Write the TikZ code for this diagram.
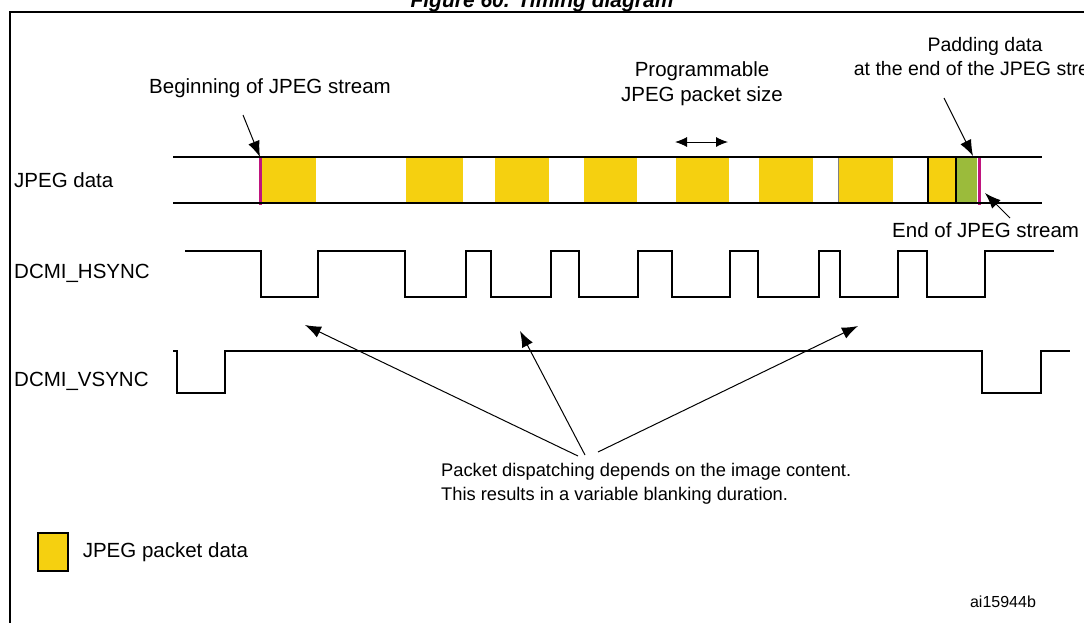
\documentclass[tikz,border=0pt]{standalone}
\usepackage{fontspec}
\setmainfont{Liberation Sans}
\usetikzlibrary{positioning,arrows.meta}
\definecolor{pktyellow}{HTML}{F5D010}
\definecolor{padgreen}{HTML}{9BBB3B}
\definecolor{streammag}{HTML}{C0147E}
\tikzset{
  lbl/.style={inner sep=0pt,font=\fontsize{20.5}{25}\selectfont},
  sig/.style={line width=1.8pt,line join=miter},
  pkt/.style={fill=pktyellow,draw=none},
  ptr/.style={-{Latex[length=16pt,width=12pt]},line width=1pt},
}
\begin{document}
\begin{tikzpicture}[x=1pt,y=-1pt,>=latex]
\useasboundingbox (0,0) rectangle (1084,622);
%% frame and title
\draw[line width=1.4pt] (10,624) -- (10,12) -- (1090,12);
\node[lbl,font=\fontsize{21}{25}\selectfont\bfseries\itshape,anchor=base] (title) at (542,7) {Figure 60. Timing diagram};
%% JPEG data band
\foreach \a/\b in {262/316,406/463,495/549,584/637,676/729,759/813,838/893,928/956}
  \fill[pkt] (\a,157) rectangle (\b,203);
\fill[padgreen] (956,157) rectangle (977,203);
\draw[line width=0.5pt,gray] (838,157) -- (838,203);
\draw[line width=1.2pt] (928,157) -- (928,203);
\draw[line width=1.2pt] (956,157) -- (956,203);
\draw[streammag,line width=3pt] (260,157) -- (260,205);
\draw[streammag,line width=3pt] (979.5,157) -- (979.5,205);
\draw[sig] (173,157) -- (1042,157);
\draw[sig] (173,203) -- (1042,203);
%% signals
\draw[sig] (185,251) -| (261,297) -| (318,251) -| (405,297) -| (466,251) -| (491,297)
  -| (551,251) -| (579,297) -| (638,251) -| (672,297) -| (730,251) -| (758,297)
  -| (819,251) -| (840,297) -| (898,251) -| (927,297) -| (985,251) -- (1054,251);
\draw[sig] (173,351) -| (177,393) -| (225,351) -| (982,393) -| (1041,351) -- (1070,351);
%% signal names
\node[lbl,anchor=west] (jpeg) at (14,180) {JPEG data};
\node[lbl,anchor=west] (hsync) at (14,273) {DCMI\_HSYNC};
\node[lbl,anchor=west] (vsync) at (14,381) {DCMI\_VSYNC};
%% annotations
\node[lbl] (begin) at (270,88) {Beginning of JPEG stream};
\coordinate (begintail) at (243,115);
\coordinate (begintip) at (260,157);
\draw[ptr] (begintail) -- (begintip);
\node[lbl,align=center] (progsize) at (702,84) {Programmable\\JPEG packet size};
\coordinate (sizel) at (675,142);
\coordinate (sizer) at (728,142);
\draw[{Latex[length=12pt,width=10pt]}-{Latex[length=12pt,width=10pt]},line width=1pt] (sizel) -- (sizer);
\node[lbl,font=\fontsize{19.5}{24}\selectfont,align=center] (padding) at (985,57) {Padding data\\at the end of the JPEG stream};
\coordinate (padtail) at (944,98);
\coordinate (padtip) at (973,156);
\draw[ptr] (padtail) -- (padtip);
\node[lbl,anchor=west] (endst) at (892,230) {End of JPEG stream};
\coordinate (endtail) at (1010,218);
\coordinate (endtip) at (985,193);
\draw[ptr] (endtail) -- (endtip);
\node[lbl,font=\fontsize{18.3}{24}\selectfont,align=left,anchor=west] (dispatch) at (441,484) {Packet dispatching depends on the image content.\\This results in a variable blanking duration.};
\coordinate (tail1) at (578,456);
\coordinate (tail2) at (585,455);
\coordinate (tail3) at (598,452);
\coordinate (tip1) at (305,325);
\coordinate (tip2) at (520,331);
\coordinate (tip3) at (858,326);
\draw[ptr] (tail1) -- (tip1);
\draw[ptr] (tail2) -- (tip2);
\draw[ptr] (tail3) -- (tip3);
%% legend
\node[draw,line width=1.2pt,fill=pktyellow,minimum width=30pt,minimum height=38pt,inner sep=0pt] (legbox) at (53,552) {};
\node[lbl,anchor=west,right=14pt of legbox] (legtext) {JPEG packet data};
\node[lbl,font=\fontsize{16}{19}\selectfont] (ref) at (1003,602) {ai15944b};
\end{tikzpicture}
\end{document}
